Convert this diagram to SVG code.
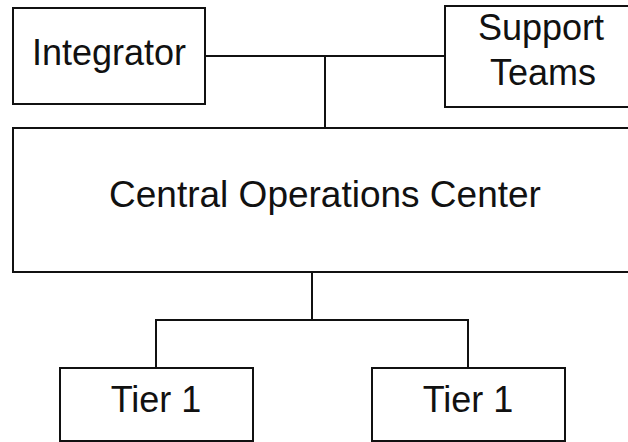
<svg xmlns="http://www.w3.org/2000/svg" width="628" height="442" viewBox="0 0 628 442">
<style>
.box{fill:#fff;stroke:#111;stroke-width:2}
.t{font-family:"Liberation Sans",Arial,sans-serif;font-size:36px;fill:#111;text-anchor:middle}
.c{fill:none;stroke:#111;stroke-width:2}
</style>
<rect width="628" height="442" fill="#fff"/>
<g id="connectors">
<path class="c" d="M205 56H444M325 56V128"/>
<path class="c" d="M312 272V320M156 368V320H468V368"/>
</g>
<g id="integrator"><rect class="box" x="13" y="8" width="192" height="96"/><text class="t" x="109" y="65">Integrator</text></g>
<g id="support"><rect class="box" x="445" y="6" width="190" height="101"/><text class="t" x="541" y="40">Support</text><text class="t" x="543" y="85">Teams</text></g>
<g id="central"><rect class="box" x="13" y="128" width="625" height="144"/><text class="t" x="325" y="207" style="font-size:37px">Central Operations Center</text></g>
<g id="tier1a"><rect class="box" x="60" y="368" width="193" height="73"/><text class="t" x="156" y="412">Tier 1</text></g>
<g id="tier1b"><rect class="box" x="372" y="368" width="193" height="73"/><text class="t" x="468" y="412">Tier 1</text></g>
</svg>
